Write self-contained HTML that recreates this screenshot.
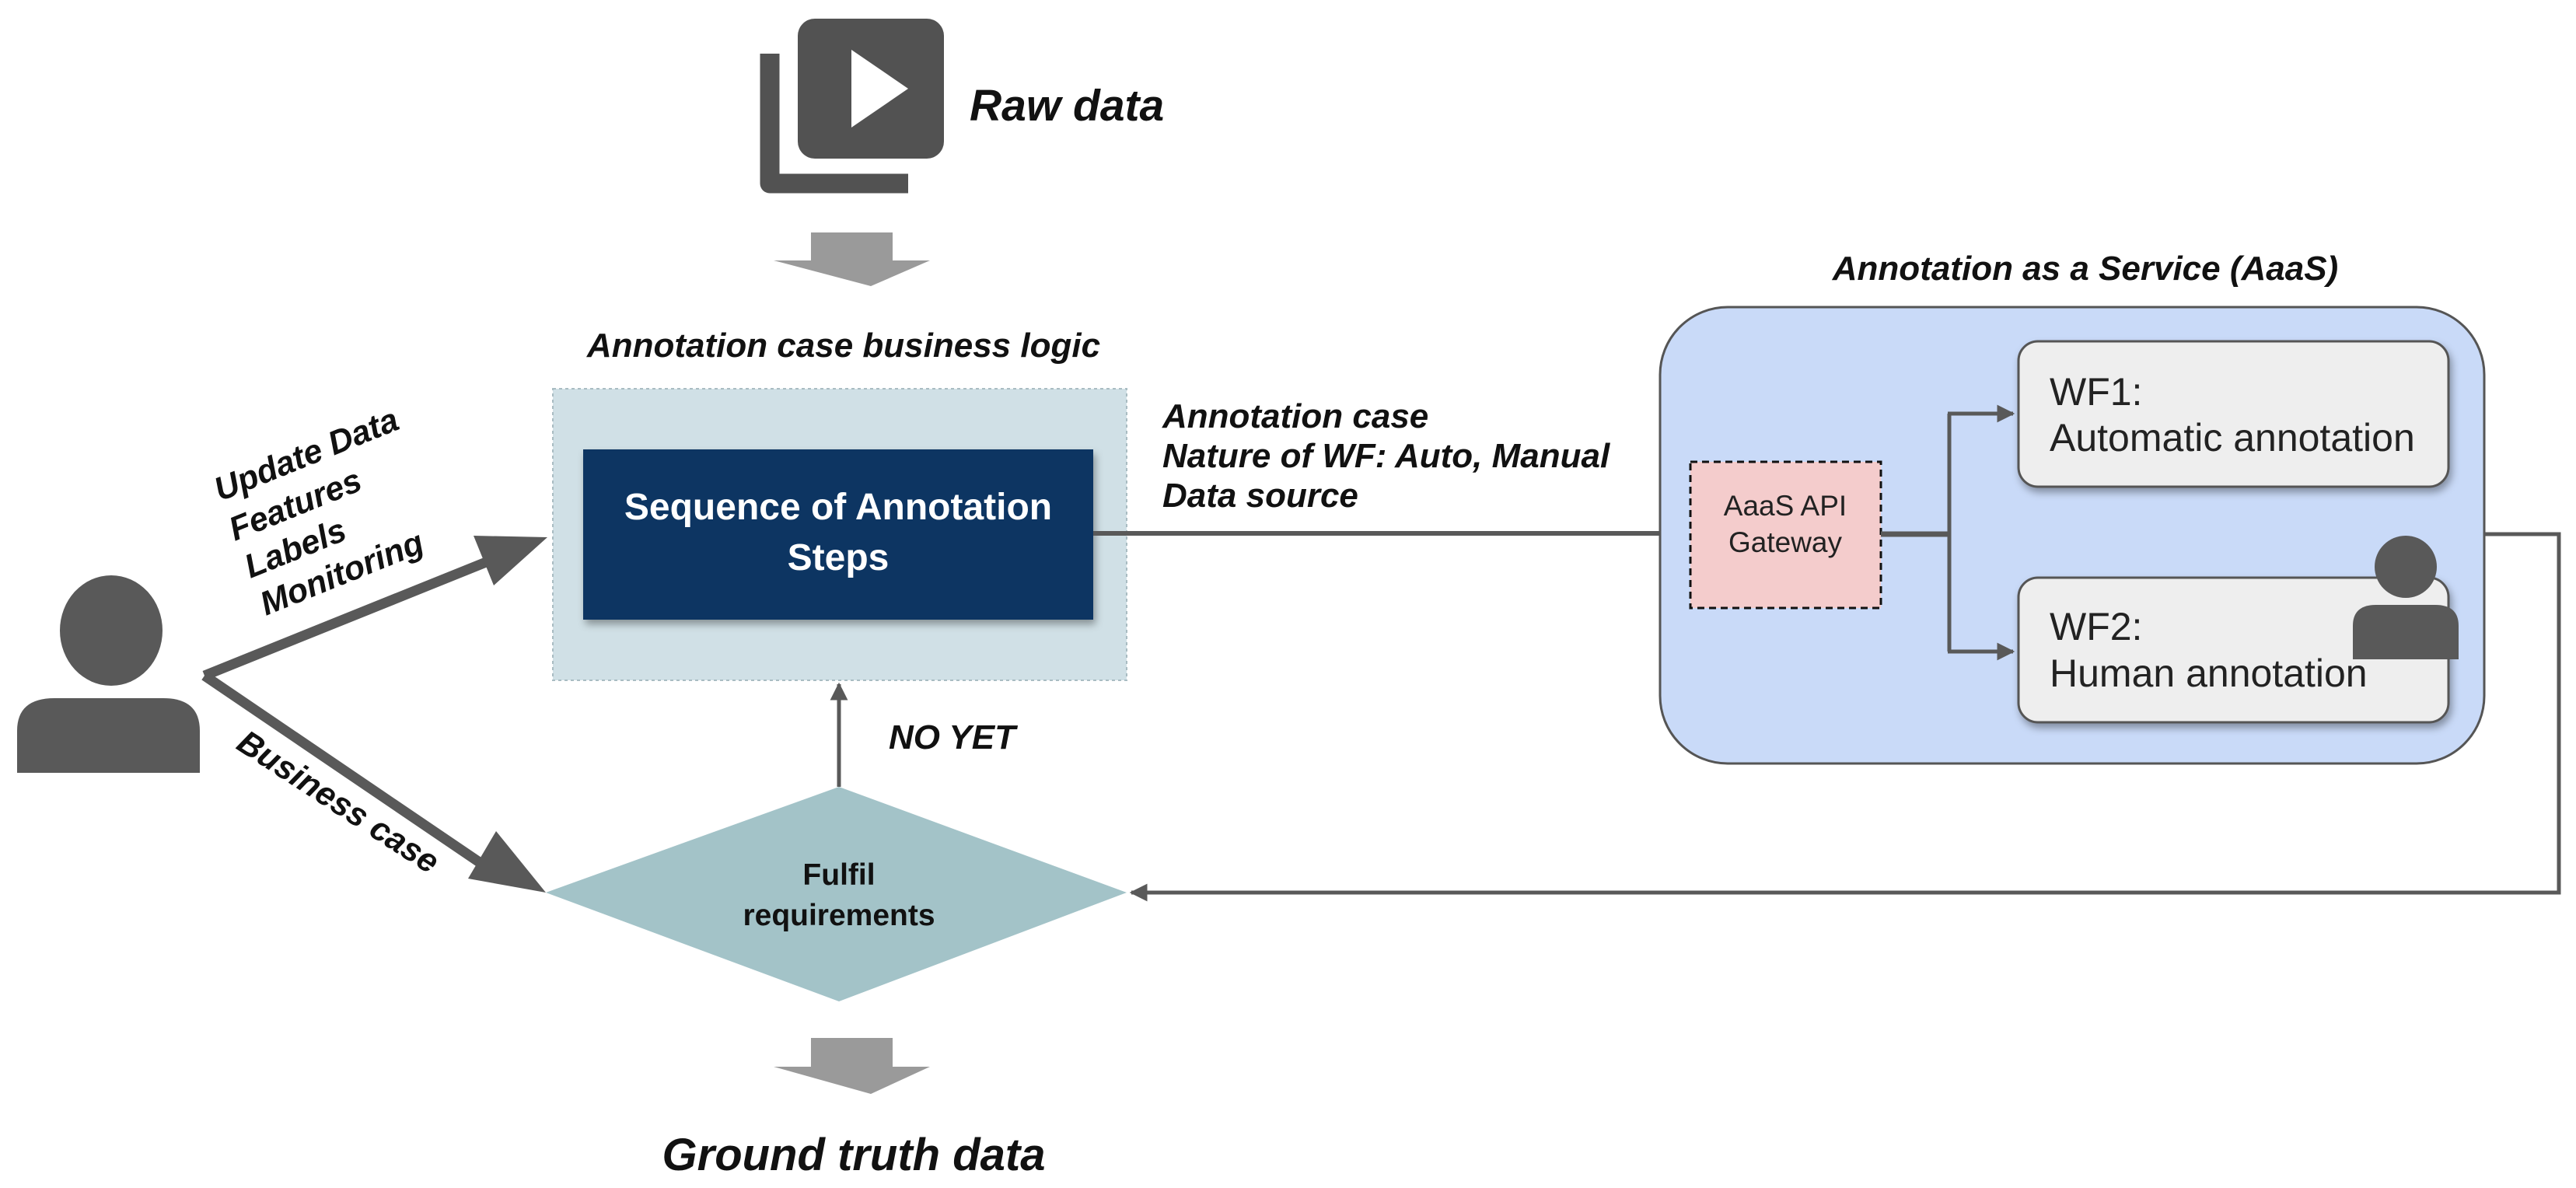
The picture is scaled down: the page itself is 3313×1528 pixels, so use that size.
<!DOCTYPE html>
<html><head><meta charset="utf-8"><style>
html,body{margin:0;padding:0;background:#fff;}
svg{display:block;}
text{font-family:"Liberation Sans",Arial,sans-serif;}
.bi{font-weight:bold;font-style:italic;fill:#111;}
</style></head><body>
<svg width="3313" height="1528" viewBox="0 0 3313 1528" xmlns="http://www.w3.org/2000/svg">
<defs>
<marker id="ahb" viewBox="0 0 10 10" refX="9" refY="5" markerWidth="4.6" markerHeight="4.6" orient="auto" markerUnits="strokeWidth"><path d="M0,0 L10,5 L0,10 z" fill="#595959"/></marker>
<filter id="sh" x="-10%" y="-10%" width="130%" height="130%"><feDropShadow dx="3" dy="6" stdDeviation="5" flood-color="#000" flood-opacity="0.35"/></filter>
</defs>

<!-- Raw data icon -->
<path d="M990,69 L990,236 L1168,236" fill="none" stroke="#525252" stroke-width="25" stroke-linejoin="round"/>
<rect x="1026" y="24" width="188" height="180" rx="22" fill="#525252"/>
<path d="M1095,64 L1168,114 L1095,164 z" fill="#fff"/>
<text x="1247" y="155" class="bi" font-size="57">Raw data</text>

<!-- top gray arrow -->
<path d="M1043,299 H1148 V335 H1196 L1120,368 L995,335 H1043 z" fill="#9a9a9a"/>

<text x="1085" y="459" class="bi" font-size="44" text-anchor="middle">Annotation case business logic</text>

<!-- light container -->
<rect x="711" y="500" width="738" height="375" fill="#d0e0e6" stroke="#a9bcc2" stroke-width="2" stroke-dasharray="4,4"/>
<rect x="750" y="578" width="656" height="219" fill="#0b3662" filter="url(#sh)"/>
<text x="1078" y="668" font-size="48" font-weight="bold" fill="#fff" text-anchor="middle">Sequence of Annotation</text>
<text x="1078" y="733" font-size="48" font-weight="bold" fill="#fff" text-anchor="middle">Steps</text>

<!-- left person -->
<ellipse cx="143" cy="811" rx="66" ry="71" fill="#595959"/>
<path d="M22,994 L22,940 Q22,898 70,898 L210,898 Q257,898 257,940 L257,994 z" fill="#595959"/>

<!-- thick arrows -->
<path d="M263,869 L640,717" stroke="#595959" stroke-width="13" fill="none" stroke-linejoin="round"/>
<path d="M704,691 L635,753 L609,689 z" fill="#595959"/>
<path d="M263,869 L640,1125" stroke="#595959" stroke-width="13" fill="none"/>
<path d="M702,1148 L602,1130 L638,1069 z" fill="#595959"/>

<text class="bi" font-size="43" transform="translate(283,645) rotate(-22)">Update Data</text>
<text class="bi" font-size="43" transform="translate(302,696) rotate(-22)">Features</text>
<text class="bi" font-size="43" transform="translate(322,744) rotate(-22)">Labels</text>
<text class="bi" font-size="43" transform="translate(342,792) rotate(-22)">Monitoring</text>
<text class="bi" font-size="43" transform="translate(302,962) rotate(33)">Business case</text>

<!-- diamond -->
<path d="M1079,1012 L1449,1148 L1079,1288 L702,1148 z" fill="#a3c3c8"/>
<text x="1079" y="1138" font-size="39" font-weight="bold" fill="#111" text-anchor="middle">Fulfil</text>
<text x="1079" y="1190" font-size="39" font-weight="bold" fill="#111" text-anchor="middle">requirements</text>

<!-- up arrow -->
<path d="M1079,1012 L1079,880" stroke="#595959" stroke-width="5" fill="none" marker-end="url(#ahb)"/>
<text x="1143" y="963" class="bi" font-size="44">NO YET</text>

<!-- bottom arrow -->
<path d="M1043,1335 H1148 V1372 H1196 L1120,1407 L995,1372 H1043 z" fill="#9a9a9a"/>
<text x="1098" y="1505" class="bi" font-size="58" text-anchor="middle">Ground truth data</text>

<!-- annotation case labels -->
<text x="1495" y="550" class="bi" font-size="44">Annotation case</text>
<text x="1495" y="601" class="bi" font-size="44">Nature of WF: Auto, Manual</text>
<text x="1495" y="652" class="bi" font-size="44">Data source</text>

<!-- line to gateway -->
<path d="M1406,686 L2174,686" stroke="#595959" stroke-width="6"/>

<!-- AaaS -->
<text x="2682" y="360" class="bi" font-size="44" text-anchor="middle">Annotation as a Service (AaaS)</text>
<rect x="2135" y="395" width="1060" height="587" rx="87" fill="#c9daf8" stroke="#555" stroke-width="3"/>
<rect x="2174" y="594" width="245" height="188" fill="#f4cccc" stroke="#111" stroke-width="3" stroke-dasharray="9,6"/>
<text x="2296" y="663" font-size="37" fill="#222" text-anchor="middle">AaaS API</text>
<text x="2296" y="710" font-size="37" fill="#222" text-anchor="middle">Gateway</text>

<path d="M2419,687 L2507,687" stroke="#595959" stroke-width="7"/>
<path d="M2507,532 L2507,838" stroke="#595959" stroke-width="5" fill="none"/>
<path d="M2505,532 L2589,532" stroke="#595959" stroke-width="5" fill="none" marker-end="url(#ahb)"/>
<path d="M2505,838 L2589,838" stroke="#595959" stroke-width="5" fill="none" marker-end="url(#ahb)"/>

<rect x="2596" y="439" width="553" height="187" rx="25" fill="#eeeeee" stroke="#555" stroke-width="3" filter="url(#sh)"/>
<text x="2636" y="521" font-size="50" fill="#222">WF1:</text>
<text x="2636" y="580" font-size="50" fill="#222">Automatic annotation</text>
<rect x="2596" y="743" width="553" height="186" rx="25" fill="#eeeeee" stroke="#555" stroke-width="3" filter="url(#sh)"/>
<text x="2636" y="823" font-size="50" fill="#222">WF2:</text>
<text x="2636" y="883" font-size="50" fill="#222">Human annotation</text>

<!-- small person -->
<ellipse cx="3094" cy="729" rx="40" ry="40" fill="#595959"/>
<path d="M3026,848 L3026,805 Q3026,778 3056,778 L3132,778 Q3162,778 3162,805 L3162,848 z" fill="#595959"/>

<!-- return line -->
<path d="M3195,687 L3291,687 L3291,1148 L1455,1148" stroke="#595959" stroke-width="5" fill="none" marker-end="url(#ahb)"/>
</svg>
</body></html>
